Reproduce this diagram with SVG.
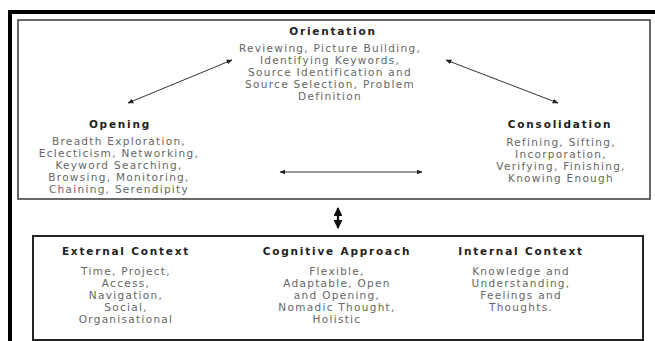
<svg xmlns="http://www.w3.org/2000/svg" width="655" height="341" viewBox="0 0 655 341">
<style>
.h{font-family:"DejaVu Sans",sans-serif;font-size:10.5px;font-weight:bold;fill:#222;text-anchor:middle;letter-spacing:1.8px}
.t{font-family:"DejaVu Sans",sans-serif;font-size:10.5px;fill:#666;text-anchor:middle;letter-spacing:1.3px}
.c{stroke:#333;stroke-width:1;fill:none}
</style>
<defs>
<marker id="a" viewBox="0 0 10 10" refX="9" refY="5" markerWidth="6" markerHeight="6" orient="auto-start-reverse"><path d="M0,1 L10,5 L0,9 z" fill="#222"/></marker>
<marker id="b" viewBox="0 0 10 10" refX="9" refY="5" markerWidth="4" markerHeight="4" orient="auto-start-reverse"><path d="M0,0 L10,5 L0,10 z" fill="#111"/></marker>
</defs>
<rect width="655" height="341" fill="#fff"/>
<path d="M10,343 V12 H657" fill="none" stroke="#000" stroke-width="4"/>
<rect id="top-box" x="18" y="20" width="632" height="179" fill="none" stroke="#444" stroke-width="1.6"/>
<rect id="bottom-box" x="33" y="236" width="610" height="104" fill="none" stroke="#222" stroke-width="2"/>
<g id="connectors">
<line class="c" x1="232" y1="60" x2="128" y2="103" marker-start="url(#a)" marker-end="url(#a)"/>
<line class="c" x1="446" y1="60" x2="558" y2="103" marker-start="url(#a)" marker-end="url(#a)"/>
<line class="c" x1="280" y1="172" x2="422" y2="172" marker-start="url(#a)" marker-end="url(#a)"/>
<line x1="338" y1="208" x2="338" y2="228" stroke="#111" stroke-width="2.2" marker-start="url(#b)" marker-end="url(#b)"/>
</g>
<g id="orientation">
<text class="h" x="333" y="35">Orientation</text>
<text class="t" x="330" y="52">Reviewing, Picture Building,</text>
<text class="t" x="330" y="64">Identifying Keywords,</text>
<text class="t" x="330" y="76">Source Identification and</text>
<text class="t" x="330" y="88">Source Selection, Problem</text>
<text class="t" x="330" y="100">Definition</text>
</g>
<g id="opening">
<text class="h" x="120" y="128">Opening</text>
<text class="t" x="119" y="145">Breadth Exploration,</text>
<text class="t" x="119" y="157">Eclecticism, Networking,</text>
<text class="t" x="119" y="169">Keyword Searching,</text>
<text class="t" x="119" y="181">Browsing, Monitoring,</text>
<text class="t" x="119" y="193">Chaining, Serendipity</text>
</g>
<g id="consolidation">
<text class="h" x="560" y="128">Consolidation</text>
<text class="t" x="561" y="146">Refining, Sifting,</text>
<text class="t" x="561" y="158">Incorporation,</text>
<text class="t" x="561" y="170">Verifying, Finishing,</text>
<text class="t" x="561" y="182">Knowing Enough</text>
</g>
<g id="external">
<text class="h" x="126" y="255">External Context</text>
<text class="t" x="126" y="275">Time, Project,</text>
<text class="t" x="126" y="287">Access,</text>
<text class="t" x="126" y="299">Navigation,</text>
<text class="t" x="126" y="311">Social,</text>
<text class="t" x="126" y="323">Organisational</text>
</g>
<g id="cognitive">
<text class="h" x="337" y="255">Cognitive Approach</text>
<text class="t" x="337" y="275">Flexible,</text>
<text class="t" x="337" y="287">Adaptable, Open</text>
<text class="t" x="337" y="299">and Opening,</text>
<text class="t" x="337" y="311">Nomadic Thought,</text>
<text class="t" x="337" y="323">Holistic</text>
</g>
<g id="internal">
<text class="h" x="521" y="255">Internal Context</text>
<text class="t" x="521" y="275">Knowledge and</text>
<text class="t" x="521" y="287">Understanding,</text>
<text class="t" x="521" y="299">Feelings and</text>
<text class="t" x="521" y="311">Thoughts.</text>
</g>
</svg>
